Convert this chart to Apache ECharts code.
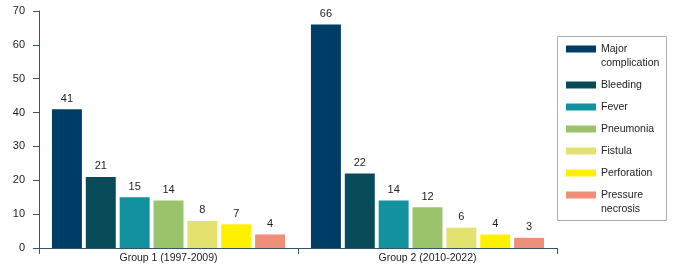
<!DOCTYPE html>
<html>
<head>
<meta charset="utf-8">
<script src="https://cdn.jsdelivr.net/npm/echarts@6/dist/echarts.min.js"></script>
<style>
  html, body { margin: 0; padding: 0; background: #fff; }
  #chart { width: 681px; height: 276px; }
</style>
</head>
<body>
<div id="chart"></div>
<script>
// categories on the x axis
var groups = ['Group 1 (1997-2009)', 'Group 2 (2010-2022)'];

// one series per complication
var names = ['Major complication', 'Bleeding', 'Fever', 'Pneumonia', 'Fistula', 'Perforation', 'Pressure necrosis'];
var colors = ['#003d66', '#064b57', '#12919e', '#9bc36b', '#e3e26e', '#fff000', '#ef8f78'];

// values per group, in the order of names
var group1 = [41, 21, 15, 14, 8, 7, 4];
var group2 = [66, 22, 14, 12, 6, 4, 3];

var yTicks = [0, 10, 20, 30, 40, 50, 60, 70];

var axisColor = '#2d5a63';
var font = 'Liberation Sans, Arial, sans-serif';

var series = names.map(function (n, i) {
	return {
		name : n,
		type : 'bar',
		data : [ group1[i], group2[i] ],
		barGap : '13%',
		barCategoryGap : '10%',
		itemStyle : { color : colors[i] },
		label : {
			show : true,
			position : 'top',
			distance : 5,
			color : '#222',
			fontSize : 11,
			fontFamily : font
		}
	};
});

// two-line names: a blank first line keeps the swatch on the first text line
function legendText(n) {
	if (n === 'Major complication') return '\nMajor\ncomplication';
	if (n === 'Pressure necrosis') return '\nPressure\nnecrosis';
	return n;
}

function makeLegend(data, top) {
	return {
		orient : 'vertical',
		left : 566,
		top : top,
		padding : 0,
		itemWidth : 30,
		itemHeight : 7,
		itemGap : 8,
		icon : 'rect',
		data : data,
		formatter : legendText,
		textStyle : { fontSize : 10.5, lineHeight : 14, color : '#222', fontFamily : font }
	};
}

var option = {
	animation : false,
	grid : { left : 39, right : 124, top : 11, bottom : 28 },
	legend : [
		makeLegend(names.slice(0, 6), 28),
		makeLegend(names.slice(6), 174)
	],
	graphic : [ {
		type : 'rect',
		shape : { x : 557.5, y : 36.5, width : 109, height : 184 },
		style : { fill : 'none', stroke : '#b0b0b0', lineWidth : 1 },
		silent : true
	} ],
	xAxis : {
		type : 'category',
		data : groups,
		axisLine : { lineStyle : { color : axisColor, width : 1 } },
		axisTick : { show : true, length : 6, lineStyle : { color : axisColor } },
		axisLabel : { color : '#222', fontSize : 10.5, margin : 5, fontFamily : font }
	},
	yAxis : {
		type : 'value',
		min : yTicks[0],
		max : yTicks[yTicks.length - 1],
		interval : 10,
		splitLine : { show : false },
		axisLine : { show : true, lineStyle : { color : axisColor, width : 1 } },
		axisTick : { show : true, length : 6, lineStyle : { color : axisColor } },
		axisLabel : { color : '#222', fontSize : 11, margin : 14, fontFamily : font }
	},
	series : series
};

echarts.init(document.getElementById('chart')).setOption(option);
</script>
</body>
</html>
